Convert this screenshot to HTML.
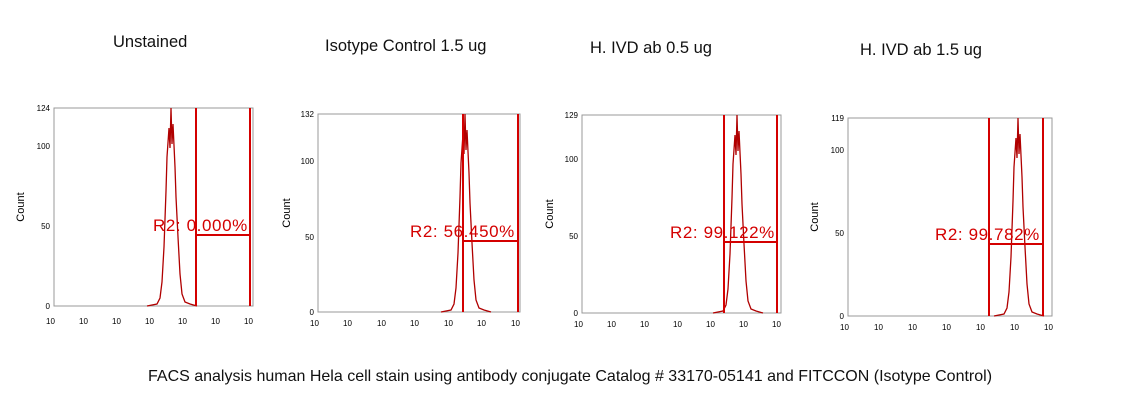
<!DOCTYPE html>
<html><head><meta charset="utf-8"><style>
body{margin:0;background:#fff;width:1139px;height:408px;overflow:hidden}
text{font-family:"Liberation Sans",sans-serif}
.t{font-size:16.5px;fill:#111}
.ax{font-size:8px;fill:#000}
.r2{font-size:17px;fill:#d40000;letter-spacing:0.6px}
.pk{fill:none;stroke:#b00000;stroke-width:1.3}
</style></head><body>
<svg width="1139" height="408" viewBox="0 0 1139 408">
<text class="t" x="113" y="47">Unstained</text>
<text class="t" x="325" y="51">Isotype Control 1.5 ug</text>
<text class="t" x="590" y="53">H. IVD ab 0.5 ug</text>
<text class="t" x="860" y="55">H. IVD ab 1.5 ug</text>
<text class="t" x="148" y="381" style="font-size:16px">FACS analysis human Hela cell stain using antibody conjugate Catalog # 33170-05141 and FITCCON (Isotype Control)</text>

<g>
<rect x="54" y="108" width="199" height="198" fill="none" stroke="#999" stroke-width="1"/>
<text class="ax" x="50" y="111" text-anchor="end">124</text>
<text class="ax" x="50" y="149" text-anchor="end">100</text>
<text class="ax" x="50" y="229" text-anchor="end">50</text>
<text class="ax" x="50" y="309" text-anchor="end">0</text>
<text class="ax" x="24" y="207" transform="rotate(-90 24 207)" text-anchor="middle" style="font-size:11px">Count</text>
<g class="ax"><text x="46" y="324">10</text><text x="79" y="324">10</text><text x="112" y="324">10</text><text x="145" y="324">10</text><text x="178" y="324">10</text><text x="211" y="324">10</text><text x="244" y="324">10</text></g>
<polyline id="pk1" class="pk" points="147,306 157,304 160,298 162,282 164,247 166,191 167,157 169,128 170,148 171,108 172,144 173,124 175,167 176,197 178,237 180,274 182,294 185,302 190,304 197,306"/>
<g stroke="#d40000" stroke-width="2" fill="none"><line x1="196" y1="108" x2="196" y2="306"/><line x1="250" y1="108" x2="250" y2="306"/><line x1="196" y1="235" x2="250" y2="235"/></g>
<text class="r2" x="153" y="231">R2: 0.000%</text>
</g>

<g>
<rect x="318" y="114" width="202" height="198" fill="none" stroke="#999"/>
<text class="ax" x="314" y="117" text-anchor="end">132</text>
<text class="ax" x="314" y="164" text-anchor="end">100</text>
<text class="ax" x="314" y="240" text-anchor="end">50</text>
<text class="ax" x="314" y="315" text-anchor="end">0</text>
<text class="ax" x="290" y="213" transform="rotate(-90 290 213)" text-anchor="middle" style="font-size:11px">Count</text>
<g class="ax"><text x="310" y="326">10</text><text x="343" y="326">10</text><text x="377" y="326">10</text><text x="410" y="326">10</text><text x="444" y="326">10</text><text x="477" y="326">10</text><text x="511" y="326">10</text></g>
<use href="#pk1" transform="translate(294,6)"/>
<g stroke="#d40000" stroke-width="2" fill="none"><line x1="463" y1="114" x2="463" y2="312"/><line x1="518" y1="114" x2="518" y2="312"/><line x1="463" y1="241" x2="518" y2="241"/></g>
<text class="r2" x="410" y="237">R2: 56.450%</text>
</g>

<g>
<rect x="582" y="115" width="199" height="198" fill="none" stroke="#999"/>
<text class="ax" x="578" y="118" text-anchor="end">129</text>
<text class="ax" x="578" y="162" text-anchor="end">100</text>
<text class="ax" x="578" y="239" text-anchor="end">50</text>
<text class="ax" x="578" y="316" text-anchor="end">0</text>
<text class="ax" x="553" y="214" transform="rotate(-90 553 214)" text-anchor="middle" style="font-size:11px">Count</text>
<g class="ax"><text x="574" y="327">10</text><text x="607" y="327">10</text><text x="640" y="327">10</text><text x="673" y="327">10</text><text x="706" y="327">10</text><text x="739" y="327">10</text><text x="772" y="327">10</text></g>
<use href="#pk1" transform="translate(566,7)"/>
<g stroke="#d40000" stroke-width="2" fill="none"><line x1="724" y1="115" x2="724" y2="313"/><line x1="777" y1="115" x2="777" y2="313"/><line x1="724" y1="242" x2="777" y2="242"/></g>
<text class="r2" x="670" y="238">R2: 99.122%</text>
</g>

<g>
<rect x="848" y="118" width="204" height="198" fill="none" stroke="#999"/>
<text class="ax" x="844" y="121" text-anchor="end">119</text>
<text class="ax" x="844" y="153" text-anchor="end">100</text>
<text class="ax" x="844" y="236" text-anchor="end">50</text>
<text class="ax" x="844" y="319" text-anchor="end">0</text>
<text class="ax" x="818" y="217" transform="rotate(-90 818 217)" text-anchor="middle" style="font-size:11px">Count</text>
<g class="ax"><text x="840" y="330">10</text><text x="874" y="330">10</text><text x="908" y="330">10</text><text x="942" y="330">10</text><text x="976" y="330">10</text><text x="1010" y="330">10</text><text x="1044" y="330">10</text></g>
<use href="#pk1" transform="translate(847,10)"/>
<g stroke="#d40000" stroke-width="2" fill="none"><line x1="989" y1="118" x2="989" y2="316"/><line x1="1043" y1="118" x2="1043" y2="316"/><line x1="989" y1="244" x2="1043" y2="244"/></g>
<text class="r2" x="935" y="240">R2: 99.782%</text>
</g>
</svg>
</body></html>
